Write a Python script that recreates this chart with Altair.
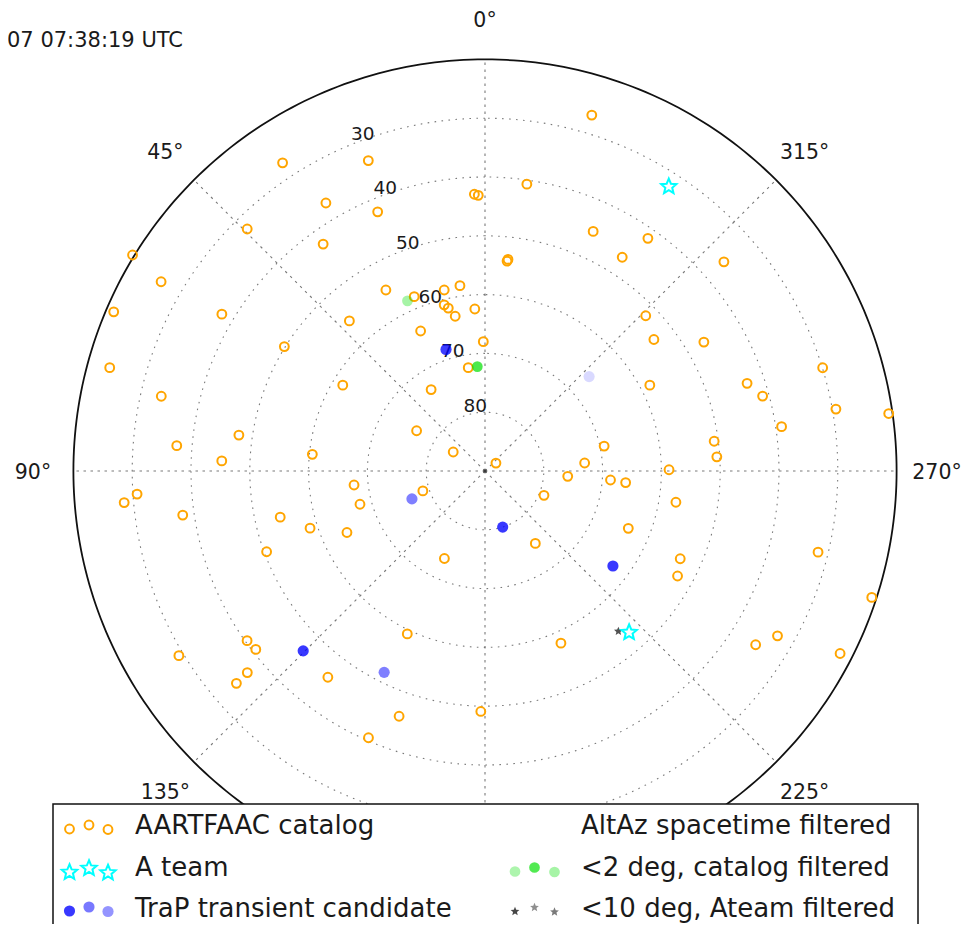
import math
import numpy as np
import pandas as pd
import altair as alt

# ---------------- data ----------------
title_text = "07 07:38:19 UTC"

# AARTFAAC catalog sources: azimuth (deg, 0 = top, counter-clockwise) and altitude (deg)
cat_az = [343.3, 351.7, 1.4, 2.2, 20.6, 33.3, 30.7, 22.5, 44.5, 35.5,
          335.7, 325.0, 354.0, 353.8, 327.3, 311.2, 59.7, 66.8, 59.2, 28.7,
          22.1, 12.7, 7.7, 13.8, 12.7, 10.9, 3.6, 42.1, 24.7, 0.75,
          58.2, 74.6, 9.2, 58.9, 33.5, 77.0, 59.5, 81.7, 85.3, 59.1,
          87.8, 84.5, 96.1, 107.8, 93.8, 95.0, 98.3, 104.9, 102.7, 108.1,
          114.0, 110.3, 155.1, 154.5, 125.5, 127.9, 121.1, 130.3, 130.5, 142.7,
          160.7, 179.0, 156.4, 58.5, 314.0, 307.9, 300.5, 297.5, 287.0, 288.5,
          285.1, 280.0, 278.1, 278.5, 277.4, 273.5, 281.8, 274.6, 306.0, 270.4,
          266.3, 265.9, 265.3, 247.6, 260.7, 248.2, 214.8, 245.8, 241.4, 256.3,
          251.9, 203.8, 237.3, 240.6, 242.8]
cat_alt = [26.8, 40.7, 43.1, 42.9, 33.6, 27.3, 37.0, 42.3, 32.3, 42.6,
           45.3, 41.7, 54.1, 53.8, 46.8, 36.0, 26.2, 21.3, 37.9, 54.9,
           58.0, 58.45, 58.2, 60.9, 61.6, 63.2, 62.4, 55.6, 63.8, 68.0,
           49.85, 23.8, 72.2, 61.75, 73.4, 33.5, 76.5, 47.7, 37.4, 83.7,
           45.2, 60.5, 67.6, 78.9, 30.7, 28.4, 38.05, 68.0, 54.3, 58.7,
           64.3, 50.4, 73.6, 59.3, 40.3, 40.6, 29.2, 37.0, 34.4, 45.9,
           45.8, 49.1, 40.5, 19.7, 52.0, 53.6, 46.8, 58.4, 29.95, 43.0,
           41.1, 29.4, 20.65, 39.0, 50.7, 50.5, 69.3, 73.0, 87.7, 58.7,
           75.9, 68.6, 66.0, 79.15, 57.1, 63.75, 75.0, 53.6, 52.7, 31.7,
           20.8, 58.0, 35.3, 32.9, 22.1]

# A team
ateam_az = [327.2, 221.9]
ateam_alt = [32.3, 53.3]

# TraP transient candidates
trap_az = [17.8, 134.7, 233.4, 197.5, 153.4, 110.9, 312.2]
trap_alt = [68.3, 46.5, 62.9, 80.0, 51.7, 76.7, 66.1]
trap_alpha = [0.76, 0.78, 0.78, 0.78, 0.5, 0.5, 0.15]

# <2 deg, catalog filtered
ncat_az = [24.5, 4.2]
ncat_alt = [58.2, 72.2]
ncat_alpha = [0.35, 0.7]

# <10 deg, Ateam filtered
nateam_az = [219.85]
nateam_alt = [54.6]

# zenith marker
zen_az = [0.0]
zen_alt = [90.0]

ring_alts = [80, 70, 60, 50, 40, 30]
horizon_alt = 20
az_ticks = [0, 45, 90, 135, 180, 225, 270, 315]
az_labels_shown = [0, 45, 90, 135, 225, 270, 315]   # 180 is hidden behind the legend

legend_col1 = ["AARTFAAC catalog", "A team", "TraP transient candidate"]
legend_col2 = ["AltAz spacetime filtered", "<2 deg, catalog filtered", "<10 deg, Ateam filtered"]

# ---------------- layout / style ----------------
W, H = 955, 916
CX, CY = 477.0, 463.0        # pixel position of the zenith inside the view
K = 5.88                     # pixels per degree of zenith distance
FONT = "DejaVu Sans"
LABEL_ZD = 452.0 / K
RLABEL_AZ = 22.5

xs = alt.Scale(domain=[-CX / K, (W - CX) / K], range=[0, W], nice=False, zero=False)
ys = alt.Scale(domain=[(CY - H) / K, CY / K], range=[H, 0], nice=False, zero=False)
XE = "-(90 - datum.alt) * sin(datum.az * PI / 180)"
YE = "(90 - datum.alt) * cos(datum.az * PI / 180)"
X = alt.X("X:Q", scale=xs, axis=None)
Y = alt.Y("Y:Q", scale=ys, axis=None)


def polar(df):
    return alt.Chart(df).transform_calculate(X=XE, Y=YE)


def star_path(inner=0.45):
    pts = []
    for i in range(10):
        r = 1.0 if i % 2 == 0 else inner
        a = -math.pi / 2 + i * math.pi / 5
        pts.append((r * math.cos(a), r * math.sin(a) + 0.1))
    return "M" + " L".join(f"{x:.3f},{y:.3f}" for x, y in pts) + " Z"


STAR = star_path()

circle_az = np.arange(0, 361, 1.0)

rings = pd.DataFrame([(a, r) for r in ring_alts for a in circle_az], columns=["az", "alt"])
ring_layer = polar(rings).mark_line(color="#7a7a7a", strokeWidth=1.1, strokeDash=[1.6, 5.4]).encode(
    x=X, y=Y, detail="alt:N", order="az:Q")

spokes = pd.DataFrame([(a, al, i) for a in az_ticks for i, al in enumerate([90, horizon_alt])],
                      columns=["az", "alt", "k"])
spoke_layer = polar(spokes).mark_line(color="#7a7a7a", strokeWidth=1.1, strokeDash=[2.5, 4.5]).encode(
    x=X, y=Y, detail="az:N", order="k:Q")

outer = pd.DataFrame({"az": circle_az, "alt": horizon_alt})
outer_layer = polar(outer).mark_line(color="#111111", strokeWidth=1.8).encode(x=X, y=Y, order="az:Q")

alabels = pd.DataFrame({"az": az_labels_shown, "alt": [90 - LABEL_ZD] * len(az_labels_shown),
                        "label": [f"{a}\u00b0" for a in az_labels_shown]})
alabel_layer = polar(alabels).mark_text(font=FONT, fontSize=20.5, color="#1a1a1a", align="center",
                                        baseline="alphabetic", dy=8).encode(x=X, y=Y, text="label:N")

rlabels = pd.DataFrame({"az": [RLABEL_AZ] * len(ring_alts), "alt": ring_alts,
                        "label": [str(r) for r in ring_alts]})
rlabel_layer = polar(rlabels).mark_text(font=FONT, fontSize=18.5, color="#1a1a1a", align="left",
                                        baseline="alphabetic", dx=1, dy=-5).encode(x=X, y=Y, text="label:N")

CAT_SIZE = 78
cat_layer = polar(pd.DataFrame({"az": cat_az, "alt": cat_alt})).mark_point(
    shape="circle", filled=False, color="#FFA500", size=CAT_SIZE, strokeWidth=2, opacity=1).encode(x=X, y=Y)

ncat_layer = polar(pd.DataFrame({"az": ncat_az, "alt": ncat_alt, "a": ncat_alpha})).mark_point(
    shape="circle", filled=True, color="#00E000", size=115, strokeWidth=0).encode(
    x=X, y=Y, opacity=alt.Opacity("a:Q", scale=None))

nateam_layer = polar(pd.DataFrame({"az": nateam_az, "alt": nateam_alt})).mark_point(
    shape=STAR, filled=True, color="#333333", size=85, strokeWidth=0, opacity=0.85).encode(x=X, y=Y)

zen_layer = polar(pd.DataFrame({"az": zen_az, "alt": zen_alt})).mark_point(
    shape="circle", filled=True, color="#333333", size=14, strokeWidth=0, opacity=0.9).encode(x=X, y=Y)

ateam_layer = polar(pd.DataFrame({"az": ateam_az, "alt": ateam_alt})).mark_point(
    shape=STAR, filled=False, color="#00FFFF", size=260, strokeWidth=2, opacity=1).encode(x=X, y=Y)

trap_layer = polar(pd.DataFrame({"az": trap_az, "alt": trap_alt, "a": trap_alpha})).mark_point(
    shape="circle", filled=True, color="#0000FF", size=125, strokeWidth=0).encode(
    x=X, y=Y, opacity=alt.Opacity("a:Q", scale=None))

title_layer = alt.Chart(pd.DataFrame({"t": [title_text]})).mark_text(
    font=FONT, fontSize=21, color="#1a1a1a", align="left", baseline="alphabetic").encode(
    x=alt.value(-1), y=alt.value(38.5), text="t:N")

# ---------------- legend ----------------
LX0, LX1, LY0 = 45, 910, 796
row_base = [826, 868, 908.5]
row_mid = [817, 859.5, 899]
col1_text_x, col2_text_x = 127, 573
col1_mx = [61.5, 81, 100]
col2_mx = [507, 526.5, 546.5]
moff = [4, 0, 4.5]

box_layer = alt.Chart(pd.DataFrame({"a": [0]})).mark_rect(
    fill="white", stroke="#111111", strokeWidth=1.5).encode(
    x=alt.value(LX0), x2=alt.value(LX1), y=alt.value(LY0), y2=alt.value(H + 20))

ltext = pd.DataFrame({
    "label": legend_col1 + legend_col2,
    "px": [col1_text_x] * 3 + [col2_text_x] * 3,
    "py": row_base + row_base,
})
ltext_layer = alt.Chart(ltext).mark_text(font=FONT, fontSize=26, color="#1a1a1a", align="left",
                                         baseline="alphabetic").encode(
    x=alt.X("px:Q", scale=None), y=alt.Y("py:Q", scale=None), text="label:N")


def lmarks(mx, row, alphas):
    return pd.DataFrame({"px": mx, "py": [row_mid[row] + o for o in moff], "a": alphas})


LX = alt.X("px:Q", scale=None)
LY = alt.Y("py:Q", scale=None)
LO = alt.Opacity("a:Q", scale=None)

lm_cat = alt.Chart(lmarks(col1_mx, 0, [1, 1, 1])).mark_point(
    shape="circle", filled=False, color="#FFA500", size=CAT_SIZE, strokeWidth=2).encode(x=LX, y=LY, opacity=LO)
lm_ateam = alt.Chart(lmarks(col1_mx, 1, [1, 1, 1])).mark_point(
    shape=STAR, filled=False, color="#00FFFF", size=260, strokeWidth=2).encode(x=LX, y=LY, opacity=LO)
lm_trap = alt.Chart(lmarks(col1_mx, 2, [0.78, 0.53, 0.42])).mark_point(
    shape="circle", filled=True, color="#0000FF", size=125, strokeWidth=0).encode(x=LX, y=LY, opacity=LO)
lm_ncat = alt.Chart(lmarks(col2_mx, 1, [0.32, 0.68, 0.35])).mark_point(
    shape="circle", filled=True, color="#00E000", size=115, strokeWidth=0).encode(x=LX, y=LY, opacity=LO)
lm_nateam = alt.Chart(lmarks(col2_mx, 2, [0.9, 0.55, 0.65])).mark_point(
    shape=STAR, filled=True, color="#333333", size=85, strokeWidth=0).encode(x=LX, y=LY, opacity=LO)

chart = alt.layer(
    ring_layer, spoke_layer, outer_layer, alabel_layer, rlabel_layer,
    cat_layer, ncat_layer, nateam_layer, zen_layer, ateam_layer, trap_layer,
    title_layer,
    box_layer, ltext_layer, lm_cat, lm_ateam, lm_trap, lm_ncat, lm_nateam,
).properties(
    width=W, height=H, padding=0, autosize=alt.AutoSizeParams(type="none"),
    background="white",
).configure_view(stroke=None)

chart.save("out.html", embed_options={"renderer": "svg", "actions": False})
